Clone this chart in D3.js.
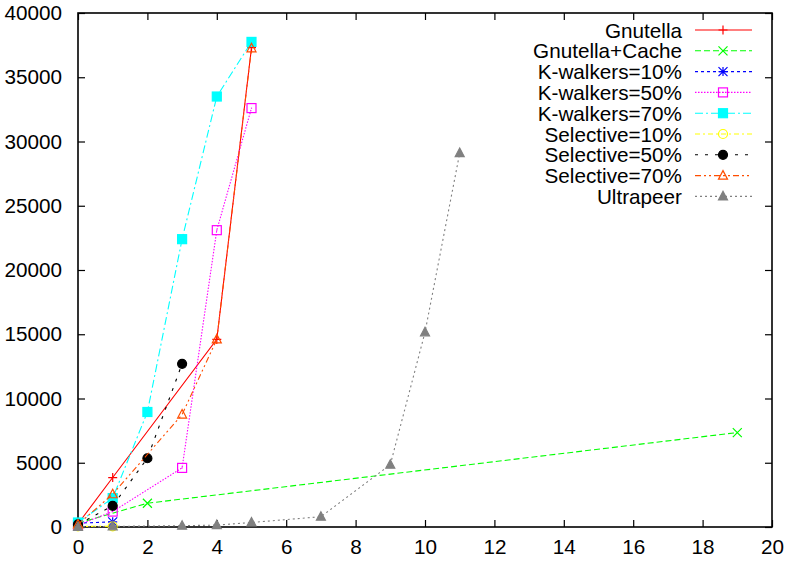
<!DOCTYPE html>
<html>
<head>
<meta charset="utf-8">
<script src="https://cdnjs.cloudflare.com/ajax/libs/d3/7.8.5/d3.min.js"></script>
<style>
  body { margin: 0; background: #fff; }
  svg { display: block; font-family: "Liberation Sans", Arial, sans-serif; }
</style>
</head>
<body>
<svg id="chart" width="793" height="561"></svg>
<script>
// ---- data ----
const xTicks = [0, 2, 4, 6, 8, 10, 12, 14, 16, 18, 20];
const yTicks = [0, 5000, 10000, 15000, 20000, 25000, 30000, 35000, 40000];

const gnutella = [[0, 250], [1, 3850], [4, 14600], [5, 37300]];
const gnutellaCache = [[0, 300], [2, 1850], [19, 7350]];
const kWalkers10 = [[0, 300], [1, 400]];
const kWalkers50 = [[0, 150], [1, 1200], [3, 4600], [4, 23100], [5, 32600]];
const kWalkers70 = [[0, 350], [1, 2250], [2, 8950], [3, 22400], [4, 33500], [5, 37750]];
const selective10 = [[0, 50], [1, 50]];
const selective50 = [[0, 200], [1, 1650], [2, 5350], [3, 12700]];
const selective70 = [[0, 200], [1, 2550], [3, 8750], [4, 14600], [5, 37250]];
const ultrapeer = [[0, 0], [1, 50], [3, 100], [4, 150], [5, 350], [7, 800], [9, 4850], [10, 15150], [11, 29100]];

const series = [
  { name: "Gnutella",       data: gnutella,      color: "#ff0000", dash: null,            marker: "plus" },
  { name: "Gnutella+Cache", data: gnutellaCache, color: "#00ff00", dash: "6,3",           marker: "cross" },
  { name: "K-walkers=10%",  data: kWalkers10,    color: "#0000ff", dash: "3,3",           marker: "star" },
  { name: "K-walkers=50%",  data: kWalkers50,    color: "#ff00ff", dash: "1.5,1.5",       marker: "box" },
  { name: "K-walkers=70%",  data: kWalkers70,    color: "#00ffff", dash: "8,3,2,3",       marker: "fbox" },
  { name: "Selective=10%",  data: selective10,   color: "#ffff00", dash: "5,3,2,3",       marker: "circle" },
  { name: "Selective=50%",  data: selective50,   color: "#000000", dash: "3,7",           marker: "fcircle" },
  { name: "Selective=70%",  data: selective70,   color: "#ff4d00", dash: "6,3,2,3,2,3",   marker: "tri" },
  { name: "Ultrapeer",      data: ultrapeer,     color: "#808080", dash: "2,3",           marker: "ftri" }
];

// ---- layout ----
const svg = d3.select("#chart");
const plotL = 78, plotR = 772, plotT = 13, plotB = 527;
const fontSize = "20.7px";

const x = d3.scaleLinear().domain([0, 20]).range([plotL, plotR]);
const y = d3.scaleLinear().domain([0, 40000]).range([plotB, plotT]);

const styleAxis = g => {
  g.select(".domain").remove();
  g.selectAll(".tick line").attr("stroke", "#000").attr("stroke-width", 1.2);
  g.selectAll(".tick text").attr("fill", "#000").style("font-size", fontSize)
    .style("font-family", "'Liberation Sans', Arial, sans-serif");
};

// bottom + top
svg.append("g").attr("transform", `translate(0,${plotB})`)
  .call(d3.axisBottom(x).tickValues(xTicks).tickSize(-7).tickPadding(12).tickFormat(d3.format("d")))
  .call(styleAxis);
svg.append("g").attr("transform", `translate(0,${plotT})`)
  .call(d3.axisTop(x).tickValues(xTicks).tickSize(-7).tickFormat(""))
  .call(styleAxis);
// left + right
svg.append("g").attr("transform", `translate(${plotL},0)`)
  .call(d3.axisLeft(y).tickValues(yTicks).tickSize(-7).tickPadding(16).tickFormat(d3.format("d")))
  .call(styleAxis);
svg.append("g").attr("transform", `translate(${plotR},0)`)
  .call(d3.axisRight(y).tickValues(yTicks).tickSize(-7).tickFormat(""))
  .call(styleAxis);

// frame
svg.append("rect")
  .attr("x", plotL).attr("y", plotT)
  .attr("width", plotR - plotL).attr("height", plotB - plotT)
  .attr("fill", "none").attr("stroke", "#000").attr("stroke-width", 1.6);

// ---- markers ----
function drawMarker(g, type, cx, cy, color) {
  const s = 4.5;
  if (type === "plus") {
    g.append("path").attr("d", `M${cx - s},${cy}H${cx + s}M${cx},${cy - s}V${cy + s}`)
      .attr("stroke", color).attr("stroke-width", 1.2).attr("fill", "none");
  } else if (type === "cross") {
    g.append("path").attr("d", `M${cx - s},${cy - s}L${cx + s},${cy + s}M${cx - s},${cy + s}L${cx + s},${cy - s}`)
      .attr("stroke", color).attr("stroke-width", 1.2).attr("fill", "none");
  } else if (type === "star") {
    g.append("path").attr("d", `M${cx - s},${cy}H${cx + s}M${cx},${cy - s}V${cy + s}M${cx - s},${cy - s}L${cx + s},${cy + s}M${cx - s},${cy + s}L${cx + s},${cy - s}`)
      .attr("stroke", color).attr("stroke-width", 1.2).attr("fill", "none");
  } else if (type === "box" || type === "fbox") {
    const fill = type === "fbox";
    g.append("rect").attr("x", cx - s).attr("y", cy - s).attr("width", 2 * s).attr("height", 2 * s)
      .attr("fill", fill ? color : "none").attr("stroke", color).attr("stroke-width", 1.2);
    if (!fill) g.append("circle").attr("cx", cx).attr("cy", cy).attr("r", 0.7).attr("fill", color);
  } else if (type === "circle" || type === "fcircle") {
    const fill = type === "fcircle";
    g.append("circle").attr("cx", cx).attr("cy", cy).attr("r", s)
      .attr("fill", fill ? color : "none").attr("stroke", color).attr("stroke-width", 1.2);
  } else if (type === "tri" || type === "ftri") {
    const fill = type === "ftri";
    g.append("path").attr("d", `M${cx},${cy - s - 0.5}L${cx + s},${cy + s - 1}L${cx - s},${cy + s - 1}Z`)
      .attr("fill", fill ? color : "none").attr("stroke", color).attr("stroke-width", 1.2);
  }
}

const line = d3.line().x(d => x(d[0])).y(d => y(d[1]));

const plot = svg.append("g");
series.forEach(s => {
  plot.append("path")
    .datum(s.data)
    .attr("d", line)
    .attr("fill", "none")
    .attr("stroke", s.color)
    .attr("stroke-width", 1.1)
    .attr("stroke-dasharray", s.dash);
  s.data.forEach(d => drawMarker(plot, s.marker, x(d[0]), y(d[1]), s.color));
});

// ---- legend ----
const legend = svg.append("g");
const legTop = 30, legStep = 20.8;
series.forEach((s, i) => {
  const ly = legTop + i * legStep;
  legend.append("text")
    .attr("x", 682).attr("y", ly)
    .attr("text-anchor", "end")
    .attr("dominant-baseline", "central")
    .style("font-size", fontSize)
    .text(s.name);
  legend.append("line")
    .attr("x1", 695).attr("x2", 752).attr("y1", ly).attr("y2", ly)
    .attr("stroke", s.color).attr("stroke-width", 1.1)
    .attr("stroke-dasharray", s.dash);
  drawMarker(legend, s.marker, 723, ly, s.color);
});
</script>
</body>
</html>
